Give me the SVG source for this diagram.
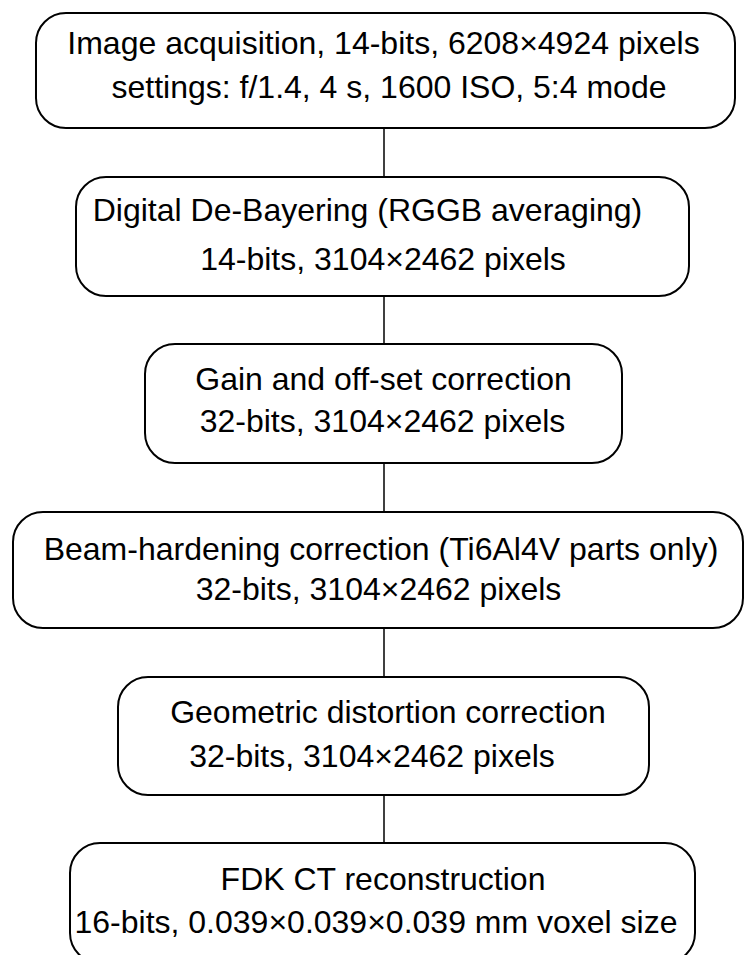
<svg xmlns="http://www.w3.org/2000/svg" width="744" height="955" viewBox="0 0 744 955">
<style>
.box{fill:#fff;stroke:#000;stroke-width:2}
.t{font-family:"Liberation Sans",Arial,sans-serif;font-size:32px;fill:#000;text-anchor:middle}
.c{stroke:#000;stroke-width:1.5;fill:none}
</style>
<rect width="744" height="955" fill="#fff"/>
<g id="connectors">
<line class="c" x1="384" y1="128" x2="384" y2="177"/>
<line class="c" x1="384" y1="296" x2="384" y2="344"/>
<line class="c" x1="384" y1="463" x2="384" y2="512"/>
<line class="c" x1="384" y1="628" x2="384" y2="677"/>
<line class="c" x1="384" y1="795" x2="384" y2="843"/>
</g>
<g id="n1">
<rect class="box" x="36" y="13" width="699" height="115" rx="30" ry="30"/>
<text class="t" x="383.5" y="54">Image acquisition, 14-bits, 6208×4924 pixels</text>
<text class="t" x="389" y="98">settings: f/1.4, 4 s, 1600 ISO, 5:4 mode</text>
</g>
<g id="n2">
<rect class="box" x="76" y="177" width="613" height="119" rx="30" ry="30"/>
<text class="t" x="367.5" y="221">Digital De-Bayering (RGGB averaging)</text>
<text class="t" x="383" y="270">14-bits, 3104×2462 pixels</text>
</g>
<g id="n3">
<rect class="box" x="145" y="344" width="477" height="119" rx="30" ry="30"/>
<text class="t" x="383.5" y="390">Gain and off-set correction</text>
<text class="t" x="382.5" y="432">32-bits, 3104×2462 pixels</text>
</g>
<g id="n4">
<rect class="box" x="13" y="512" width="730" height="116" rx="30" ry="30"/>
<text class="t" x="381" y="560">Beam-hardening correction (Ti6Al4V parts only)</text>
<text class="t" x="378.5" y="600">32-bits, 3104×2462 pixels</text>
</g>
<g id="n5">
<rect class="box" x="118" y="677" width="531" height="118" rx="30" ry="30"/>
<text class="t" x="388" y="723">Geometric distortion correction</text>
<text class="t" x="372" y="767">32-bits, 3104×2462 pixels</text>
</g>
<g id="n6">
<rect class="box" x="70" y="843" width="625" height="120" rx="30" ry="30"/>
<text class="t" x="383" y="890">FDK CT reconstruction</text>
<text class="t" x="376" y="933">16-bits, 0.039×0.039×0.039 mm voxel size</text>
</g>
</svg>
